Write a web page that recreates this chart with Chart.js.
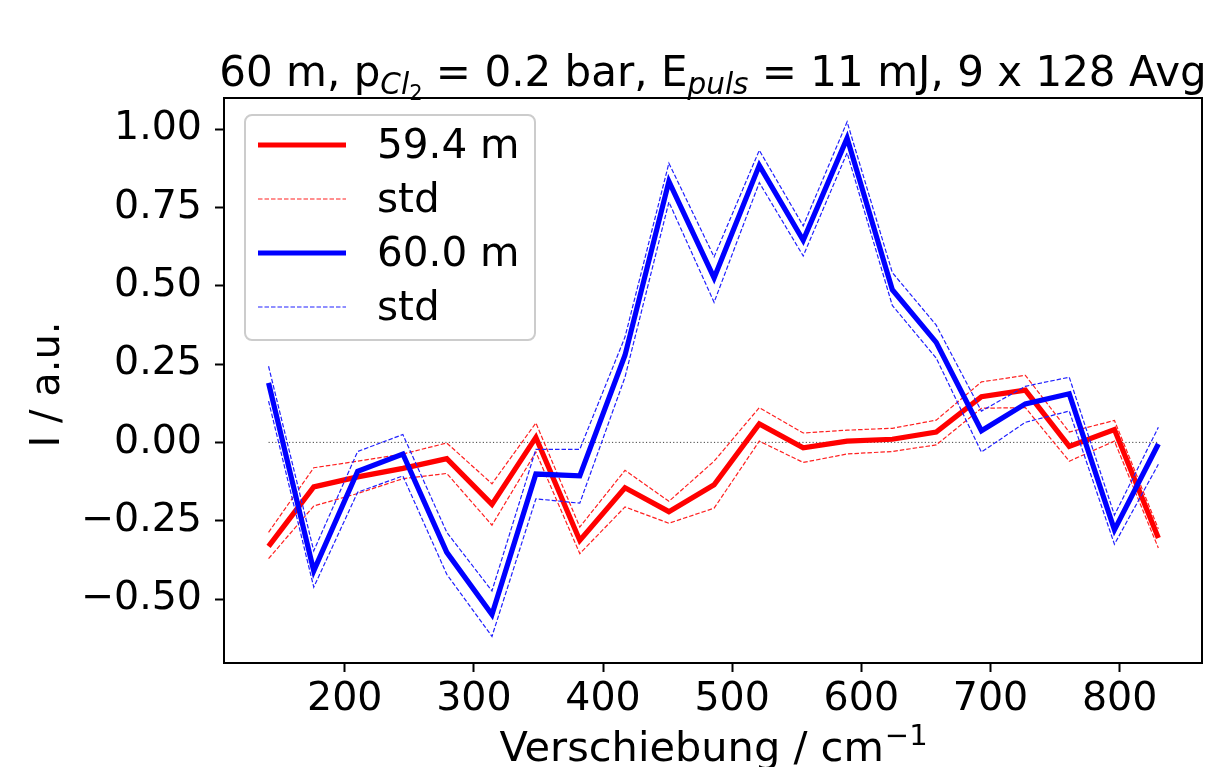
<!DOCTYPE html>
<html>
<head>
<meta charset="utf-8">
<script src="https://cdn.jsdelivr.net/npm/chart.js@4.4.1/dist/chart.umd.min.js"></script>
<style>
  html, body { margin: 0; padding: 0; background: #ffffff; }
  #wrap { width: 1209px; height: 767px; }
</style>
</head>
<body>
<div id="wrap"><canvas id="c" width="1209" height="767"></canvas></div>
<script>
// ---------------- data ----------------
const xValues = [141, 176, 210, 245, 279, 314, 348, 382, 417, 451, 486, 521, 555, 589, 624, 658, 693, 727, 761, 796, 830];

const red594      = [-0.332, -0.142, -0.110, -0.083, -0.052, -0.198, 0.016, -0.313, -0.145, -0.221, -0.135, 0.059, -0.017, 0.004, 0.010, 0.033, 0.146, 0.167, -0.013, 0.041, -0.305];
const red594Upper = [-0.287, -0.081, -0.060, -0.037, -0.002, -0.132, 0.062, -0.270, -0.089, -0.188, -0.060, 0.111, 0.030, 0.039, 0.045, 0.071, 0.193, 0.214, 0.033, 0.070, -0.276];
const red594Lower = [-0.371, -0.203, -0.163, -0.116, -0.099, -0.264, -0.031, -0.355, -0.206, -0.258, -0.210, 0.004, -0.064, -0.037, -0.029, -0.008, 0.109, 0.111, -0.060, 0.004, -0.337];

const blue600      = [0.190, -0.410, -0.092, -0.037, -0.351, -0.549, -0.101, -0.107, 0.278, 0.833, 0.525, 0.884, 0.645, 0.971, 0.487, 0.319, 0.037, 0.123, 0.155, -0.279, -0.005];
const blue600Upper = [0.243, -0.346, -0.029, 0.025, -0.287, -0.474, -0.022, -0.022, 0.336, 0.891, 0.592, 0.932, 0.691, 1.023, 0.542, 0.374, 0.100, 0.179, 0.208, -0.232, 0.048];
const blue600Lower = [0.132, -0.462, -0.159, -0.107, -0.421, -0.619, -0.180, -0.194, 0.208, 0.767, 0.447, 0.829, 0.595, 0.924, 0.437, 0.269, -0.031, 0.064, 0.100, -0.325, -0.070];

const zeroLineX = [141, 830];
const zeroLineY = [0, 0];

const seriesLabels = ["59.4 m", "std", "60.0 m", "std"];
const xTicks = [200, 300, 400, 500, 600, 700, 800];
const yTicks = [-0.5, -0.25, 0, 0.25, 0.5, 0.75, 1.0];
const xRange = [106.5, 863.8];
const yRange = [-0.704, 1.099];

const titleParts = [
  { t: "60 m, p" },
  { t: "Cl", sub: true, italic: true },
  { t: "2", subsub: true },
  { t: " = 0.2 bar, E" },
  { t: "puls", sub: true, italic: true },
  { t: " = 11 mJ, 9 x 128 Avg" }
];
const xAxisTitle = "Verschiebung / cm";
const xAxisTitleSup = "\u22121";
const yAxisTitle = "I / a.u.";

// ---------------- helpers ----------------
const FONT = "'DejaVu Sans', 'Liberation Sans', sans-serif";
const pts = (xs, ys) => xs.map((x, i) => ({ x: x, y: ys[i] }));

function lineDs(label, xs, ys, color, width, dash, order, inLegend) {
  return {
    label: label,
    data: pts(xs, ys),
    borderColor: color,
    backgroundColor: color,
    borderWidth: width,
    borderDash: dash,
    pointRadius: 0,
    pointHoverRadius: 0,
    fill: false,
    tension: 0,
    order: order,
    inLegend: inLegend,
    borderJoinStyle: 'miter',
    borderCapStyle: 'butt'
  };
}

const datasets = [
  lineDs("zero", zeroLineX, zeroLineY, "#444444", 1, [1.2, 2.2], 20, false),
  lineDs(seriesLabels[0], xValues, red594, "#ff0000", 5.2, [], 8, true),
  lineDs(seriesLabels[1], xValues, red594Upper, "#ff2020", 1.2, [4.5, 2], 7, true),
  lineDs(seriesLabels[1], xValues, red594Lower, "#ff2020", 1.2, [4.5, 2], 6, false),
  lineDs(seriesLabels[2], xValues, blue600, "#0000ff", 5.2, [], 4, true),
  lineDs(seriesLabels[3], xValues, blue600Upper, "#2020ff", 1.2, [4.5, 2], 3, true),
  lineDs(seriesLabels[3], xValues, blue600Lower, "#2020ff", 1.2, [4.5, 2], 2, false)
];

function fmtY(v) {
  return v.toFixed(2).replace('-', '\u2212');
}

const decor = {
  id: 'decor',
  afterDraw(chart) {
    const ctx = chart.ctx;
    const a = chart.chartArea;
    ctx.save();
    // frame
    ctx.strokeStyle = '#000';
    ctx.lineWidth = 2;
    ctx.strokeRect(a.left, a.top, a.right - a.left, a.bottom - a.top);

    // legend
    const lx = a.left + 21, ly = a.top + 17, lw = 290, lh = 225, r = 7;
    ctx.beginPath();
    ctx.moveTo(lx + r, ly);
    ctx.arcTo(lx + lw, ly, lx + lw, ly + lh, r);
    ctx.arcTo(lx + lw, ly + lh, lx, ly + lh, r);
    ctx.arcTo(lx, ly + lh, lx, ly, r);
    ctx.arcTo(lx, ly, lx + lw, ly, r);
    ctx.closePath();
    ctx.fillStyle = 'rgba(255,255,255,0.8)';
    ctx.fill();
    ctx.strokeStyle = '#cccccc';
    ctx.lineWidth = 2;
    ctx.stroke();

    const entries = chart.data.datasets.filter(d => d.inLegend);
    ctx.font = "40.5px " + FONT;
    ctx.textBaseline = 'middle';
    ctx.textAlign = 'left';
    entries.forEach((d, i) => {
      const y = ly + 30 + i * 54;
      ctx.beginPath();
      ctx.setLineDash(d.borderDash || []);
      ctx.strokeStyle = d.borderColor;
      ctx.lineWidth = d.borderWidth;
      ctx.moveTo(lx + 13, y);
      ctx.lineTo(lx + 101, y);
      ctx.stroke();
      ctx.setLineDash([]);
      ctx.fillStyle = '#000';
      ctx.fillText(d.label, lx + 132, y + 2);
    });

    // title with subscripts
    const big = 42;
    const parts = titleParts.map(p => {
      let size = big, dy = 0, style = '';
      if (p.sub) { size = 29.5; dy = 8; }
      if (p.subsub) { size = 21; dy = 14; }
      if (p.italic) style = 'italic ';
      return Object.assign({}, p, { font: style + size + "px " + FONT, dy: dy });
    });
    let total = 0;
    parts.forEach(p => { ctx.font = p.font; p.w = ctx.measureText(p.t).width; total += p.w; });
    let x = (a.left + a.right) / 2 - total / 2;
    const base = 86;
    ctx.textBaseline = 'alphabetic';
    ctx.fillStyle = '#000';
    parts.forEach(p => { ctx.font = p.font; ctx.fillText(p.t, x, base + p.dy); x += p.w; });

    // x axis title
    ctx.font = "41.5px " + FONT;
    const w1 = ctx.measureText(xAxisTitle).width;
    ctx.font = "29px " + FONT;
    const w2 = ctx.measureText(xAxisTitleSup).width;
    let xs = (a.left + a.right) / 2 - (w1 + w2) / 2;
    ctx.font = "41.5px " + FONT;
    ctx.fillText(xAxisTitle, xs, 761);
    ctx.font = "29px " + FONT;
    ctx.fillText(xAxisTitleSup, xs + w1 + 1, 745);

    // y axis title
    ctx.save();
    ctx.translate(59, (a.top + a.bottom) / 2 + 4);
    ctx.rotate(-Math.PI / 2);
    ctx.font = "40px " + FONT;
    ctx.textAlign = 'center';
    ctx.fillText(yAxisTitle, 0, 0);
    ctx.restore();

    ctx.restore();
  }
};

new Chart(document.getElementById('c'), {
  type: 'line',
  data: { datasets: datasets },
  plugins: [decor],
  options: {
    responsive: false,
    animation: false,
    devicePixelRatio: 1,
    layout: { padding: { top: 98, right: 7, left: 0, bottom: 0 } },
    plugins: {
      legend: { display: false },
      title: { display: false },
      tooltip: { enabled: false }
    },
    scales: {
      x: {
        type: 'linear',
        min: xRange[0],
        max: xRange[1],
        afterBuildTicks: s => { s.ticks = xTicks.map(v => ({ value: v })); },
        afterFit: s => { s.height = 104; },
        ticks: {
          font: { family: FONT, size: 39.5 },
          color: '#000',
          padding: 4,
          maxRotation: 0,
          autoSkip: false,
          callback: v => String(v)
        },
        grid: {
          drawOnChartArea: false,
          drawTicks: true,
          tickLength: 9,
          tickWidth: 2,
          tickColor: '#000'
        },
        border: { display: false }
      },
      y: {
        type: 'linear',
        min: yRange[0],
        max: yRange[1],
        afterBuildTicks: s => { s.ticks = yTicks.map(v => ({ value: v })); },
        afterFit: s => { s.width = 224; },
        ticks: {
          font: { family: FONT, size: 39.5 },
          color: '#000',
          padding: 13,
          autoSkip: false,
          callback: v => fmtY(v)
        },
        grid: {
          drawOnChartArea: false,
          drawTicks: true,
          tickLength: 9,
          tickWidth: 2,
          tickColor: '#000'
        },
        border: { display: false }
      }
    }
  }
});
</script>
</body>
</html>
